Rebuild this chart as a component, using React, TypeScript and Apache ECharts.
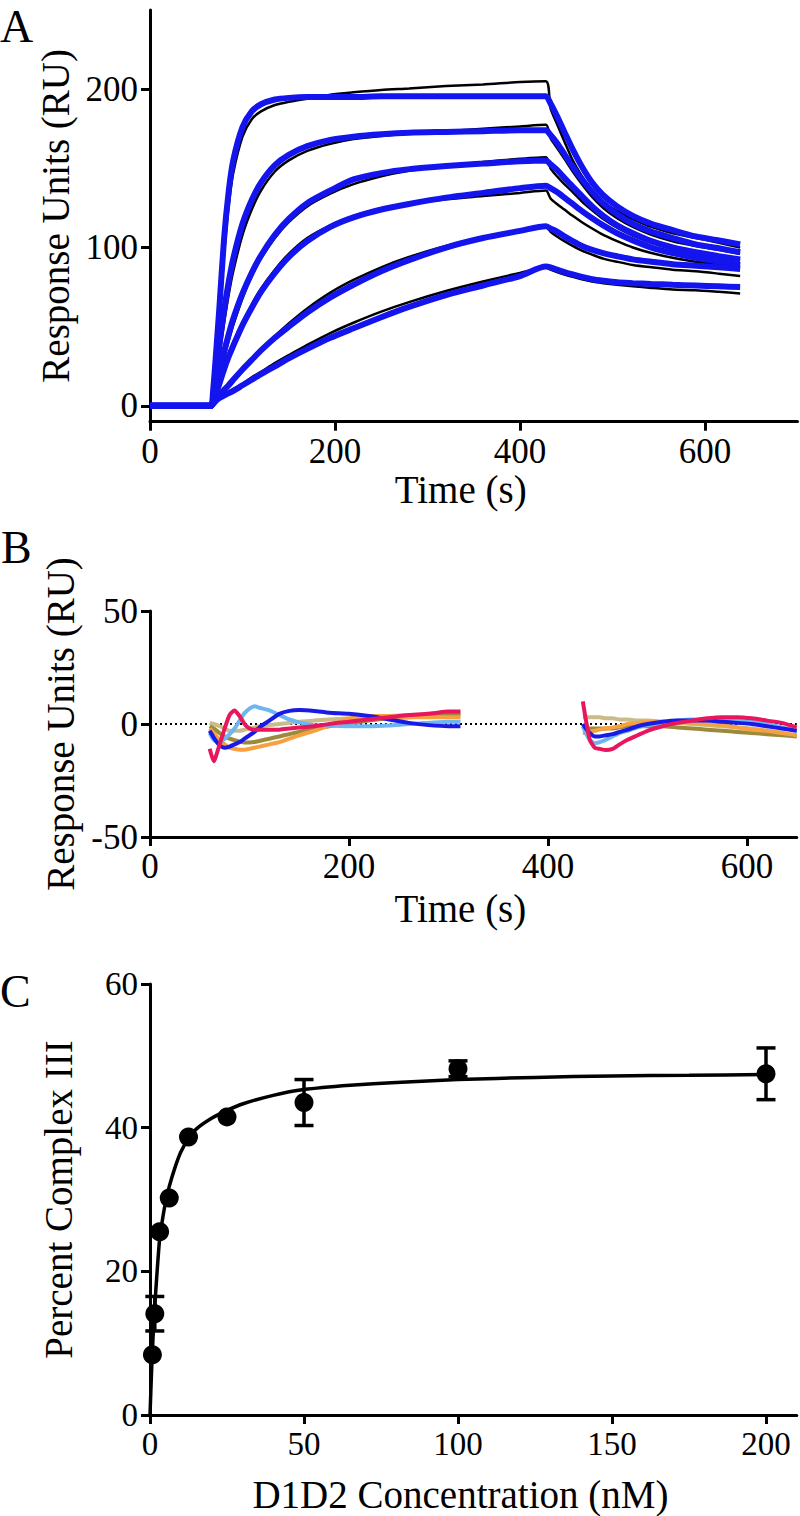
import React, { useEffect, useRef } from "react";
import * as echarts from "echarts";

const FONT = "Liberation Serif, DejaVu Serif, serif";

// ---------- Panel A : sensorgrams (black = data, blue = fit) ----------
const timeA = [0, 66, 68, 71, 75, 80, 85, 90, 100, 110, 120, 135, 150, 170, 195, 220, 250, 280, 320, 360, 400, 428, 433, 440, 448, 457, 467, 478, 490, 505, 522, 542, 565, 590, 615, 638];

const obsA1 = [0, 0, 5, 25, 55, 95, 126, 147, 170, 181, 186, 190, 192, 194, 196.5, 198, 199.5, 200.5, 202, 203, 204.5, 205, 188, 178, 167, 155, 145, 136, 129, 123, 118, 113, 109, 106, 103, 100];
const obsA2 = [0, 0, 3, 14, 32, 52, 70, 85, 108, 124, 136, 148, 155, 161, 165.5, 168.5, 170.5, 172, 173.5, 175, 176.5, 177.5, 169, 163, 156, 148, 140, 132, 125, 118.5, 113, 108, 104, 101, 98.5, 96];
const obsA3 = [0, 0, 2, 9, 19, 30, 41, 51, 68, 82, 93, 106, 116, 126, 134, 140, 145, 148.5, 151.5, 154, 156, 157, 150, 145, 140, 135, 129, 123.5, 118, 112.5, 107.5, 103, 99, 96, 94, 92];
const obsA4 = [0, 0, 1, 5, 12, 21, 30, 38, 52, 64, 74, 86, 96, 106, 114, 120, 124.5, 127.5, 130.5, 132.5, 134.5, 136, 131, 127.5, 124, 120, 116, 112, 108, 104, 100, 96.5, 93.5, 91, 89.5, 88];
const obsA5 = [0, 0, 1, 3, 6, 9, 12, 15.5, 22, 28.5, 35, 44, 52, 61.5, 71.5, 79.5, 87.5, 94, 101, 106, 110, 113, 110, 107, 104, 101, 98, 95.5, 93, 91, 89, 87.5, 86, 85, 83.5, 82];
const obsA6 = [0, 0, 1, 2.5, 4.5, 6.5, 8.5, 10.5, 14, 18, 21.5, 27, 32, 38.5, 46, 52.5, 59.5, 65.5, 72.5, 78.5, 84, 87.5, 86, 84.5, 83, 81.5, 80, 78.5, 77.5, 76.5, 75.5, 74.5, 73.5, 73, 72, 71];

const fitA1 = [0, 0, 8, 30, 62, 105, 135, 155, 176, 186, 190.5, 193.5, 194.5, 195, 195, 195, 195.5, 195.5, 195.5, 195.5, 195.5, 195.5, 191, 183, 173, 162, 151, 141, 133, 126, 120, 115, 111, 107, 104.5, 102];
const fitA2 = [0, 0, 5, 18, 38, 60, 78, 93, 115, 130, 141, 152, 158.5, 164, 168, 170, 171.5, 172.5, 173, 173.5, 174, 174, 171, 166, 159, 151, 143, 135, 128, 121, 115, 110, 106, 102, 99.5, 97];
const fitA3 = [0, 0, 3, 11, 22, 34, 45, 55, 71, 84, 95, 108, 118, 128, 136, 143, 147, 149.5, 151.5, 153, 154.5, 155, 152.5, 149, 144, 138.5, 132.5, 126, 120, 114, 109, 104, 100, 97, 94.5, 92.5];
const fitA4 = [0, 0, 2, 7, 14, 23, 31, 38, 51, 62, 72, 84, 94, 104, 113, 119, 124, 127.5, 131.5, 134.5, 137.5, 139, 137.5, 135, 131.5, 127.5, 123, 118.5, 114, 109, 104.5, 100, 96.5, 93.5, 91, 89];
const fitA5 = [0, 0, 1.5, 4, 7, 10, 13, 16.5, 23, 29, 35, 43, 50, 59, 68.5, 76.5, 85, 92, 100, 106, 110.5, 113.5, 112, 110, 107, 104, 101, 98.5, 96.5, 94.5, 92.5, 91, 89.5, 88.5, 87.5, 86.5];
const fitA6 = [0, 0, 1, 3, 5, 6.5, 8, 9.5, 13, 16.5, 20, 25, 30, 36, 43, 49, 56, 62.5, 70, 76, 82, 88, 87.5, 86, 84.5, 83, 81.5, 80, 79, 78, 77.5, 77, 76.5, 76, 75.5, 75];

const obsA = [obsA1, obsA2, obsA3, obsA4, obsA5, obsA6];
const fitA = [fitA1, fitA2, fitA3, fitA4, fitA5, fitA6];
const ticksAX = [0, 200, 400, 600];
const ticksAY = [0, 100, 200];

// ---------- Panel B : residuals ----------
const timeB = [60, 64, 70, 75, 80, 85, 90, 95, 100, 105, 110, 120, 130, 140, 150, 165, 180, 200, 220, 240, 260, 280, 300, 312, 375, 435, 438, 442, 447, 452, 458, 465, 472, 480, 490, 500, 515, 530, 545, 560, 575, 590, 605, 620, 635, 650];

const resTan = [0.5, 0, -1, -2, -3, -3, -3, -2.5, -2, -1.5, -1, -0.5, 0, 0.5, 1, 1.5, 2, 2.5, 3, 3.5, 4, 4.5, 5, 5, null, 3, 3, 3, 3, 3, 2.5, 2.5, 2, 2, 1.5, 1.5, 1, 0.5, 0, -0.5, -1, -1.5, -2, -3, -4, -5];
const resOlive = [-1, -2, -4, -5.5, -6.5, -7.2, -7.8, -8.2, -8.2, -8, -7.5, -6.5, -5.5, -4.5, -3.5, -2, -1, 0.3, 1.5, 2.5, 3, 3.5, 4, 4, null, -1, -1.5, -2, -2, -2, -2, -2, -1.5, -1, -1, -1, -1, -1.5, -2, -2.5, -3, -3.5, -4, -4.5, -5, -5.5];
const resOrange = [-2, -4, -7, -9, -10.5, -11, -11.4, -11.4, -11, -10.5, -10, -9, -8, -6.5, -5, -3, -0.7, 2.5, 3.5, 3.5, 3, 3, 3, 3, null, -4, -4, -3.5, -3, -2.5, -2, -1.5, -1, 0, 0.5, 1, 1, 1, 0.5, 0, -0.5, -1.5, -2.5, -3, -4, -5];
const resLightBlue = [-4, -7, -8.3, -6.5, -4.5, -2, 1.5, 4.8, 6.8, 7.8, 7.2, 6, 4, 2, 0.7, -0.5, -0.7, -1, -1, -0.7, 0, 0.5, 1, 1, null, -1, -4, -7, -8.5, -8, -7, -5.5, -4, -3, -1.5, -0.5, 0.5, 1.5, 2, 2, 2, 1.5, 1, 0, -1.5, -3];
const resBlue = [-3, -6, -9.5, -10.5, -10, -9, -8, -6.5, -5, -3.5, -1.5, 1.5, 4.5, 5.8, 6.2, 5.8, 5, 4.5, 3.5, 2, 0.5, -0.5, -1, -1, null, 0, -2, -4, -5.5, -5.5, -5, -4.5, -3.5, -2.5, -1, 0, 1, 1.5, 1.5, 1.5, 1, 0.5, 0, -1, -2, -3];
const resPink = [-11, -16.5, -9, -2, 4, 6, 3.5, 0, -2, -2.5, -2.5, -2.5, -2.5, -2, -1.5, -1, 0, 1, 2, 3, 4, 4.5, 5.5, 5.5, null, 10, 2, -7, -10.5, -11, -11.5, -11, -9, -7, -5, -3, -1, 0.5, 1.5, 2.5, 3, 3, 2.5, 1.5, 0.5, -1.5];

const resSeries = [resTan, resOlive, resOrange, resLightBlue, resBlue, resPink];
const resColors = ["#c9bb8a", "#9b8a3a", "#f6a040", "#6db6f2", "#1a1ae6", "#e8175d"];
const ticksBX = [0, 200, 400, 600];
const ticksBY = [-50, 0, 50];

// ---------- Panel C : binding ----------
const concC = [0.78, 1.56, 3.125, 6.25, 12.5, 25, 50, 100, 200];
const meanC = [8.4, 14.1, 25.5, 30.2, 38.7, 41.5, 43.5, 48.2, 47.5];
const semC = [0, 2.4, 0, 0, 0, 0, 3.2, 1.1, 3.6];
const fitCX = [0, 0.25, 0.5, 0.78, 1.2, 1.56, 2.2, 3.125, 4.2, 5, 6.25, 8, 10, 12.5, 15, 20, 25, 30, 40, 50, 65, 80, 100, 125, 150, 175, 200];
const fitCY = [0, 3, 6, 9, 12.5, 15.2, 19.3, 24.5, 27.6, 29.5, 31.8, 34.3, 36.6, 38.5, 39.8, 41.3, 42.4, 43.3, 44.5, 45.3, 45.9, 46.3, 46.7, 47.0, 47.2, 47.3, 47.4];
const ticksCX = [0, 50, 100, 150, 200];
const ticksCY = [0, 20, 40, 60];

function makeAxis(opts: any) {
  const { gridIndex, min, max, ticks, name, nameGap, fontSize, isY, namePad } = opts;
  return {
    type: "value",
    gridIndex,
    min,
    max,
    name,
    nameLocation: "middle",
    nameGap,
    nameRotate: isY ? 90 : 0,
    nameTextStyle: {
      color: "#000",
      fontFamily: FONT,
      fontSize: 39,
      padding: namePad || 0,
    },
    axisLine: { show: true, onZero: false, lineStyle: { color: "#000", width: 3 } },
    axisTick: { show: true, inside: false, length: 9, lineStyle: { color: "#000", width: 3 }, customValues: ticks },
    axisLabel: { show: true, color: "#000", fontFamily: FONT, fontSize, margin: 12, customValues: ticks },
    splitLine: { show: false },
  };
}

export default function App() {
  const ref = useRef<HTMLDivElement>(null);
  useEffect(() => {
    const chart = echarts.init(ref.current as HTMLDivElement, null, { renderer: "svg" });

    const series: any[] = [];
    obsA.forEach((arr, i) => {
      series.push({
        type: "line", xAxisIndex: 0, yAxisIndex: 0, showSymbol: false, silent: true, z: 2,
        smooth: 0.25,
        data: timeA.map((t, j) => [t, arr[j]]),
        lineStyle: { color: "#000", width: 2.5 },
        name: "data" + (i + 1),
      });
    });
    fitA.forEach((arr, i) => {
      series.push({
        type: "line", xAxisIndex: 0, yAxisIndex: 0, showSymbol: false, silent: true, z: 3,
        smooth: 0.25,
        data: timeA.map((t, j) => [t, arr[j]]),
        lineStyle: { color: "#1414ee", width: 6 },
        name: "fit" + (i + 1),
      });
    });
    series.push({
      type: "line", xAxisIndex: 1, yAxisIndex: 1, showSymbol: false, silent: true, z: 1,
      data: [[0, 0], [650, 0]],
      lineStyle: { color: "#000", width: 2, type: [2, 3] },
    });
    resSeries.forEach((arr, i) => {
      series.push({
        type: "line", xAxisIndex: 1, yAxisIndex: 1, showSymbol: false, silent: true, z: 2 + i,
        connectNulls: false,
        smooth: 0.2,
        data: timeB.map((t, j) => [t, arr[j] === null ? "-" : arr[j]]),
        lineStyle: { color: resColors[i], width: 4 },
      });
    });
    series.push({
      type: "line", xAxisIndex: 2, yAxisIndex: 2, showSymbol: false, silent: true, z: 2,
      smooth: 0.2,
      data: fitCX.map((x, j) => [x, fitCY[j]]),
      lineStyle: { color: "#000", width: 3.5 },
    });
    series.push({
      type: "custom", xAxisIndex: 2, yAxisIndex: 2, silent: true, z: 3,
      data: concC.map((c, i) => [c, meanC[i] - semC[i], meanC[i] + semC[i]]).filter((d, i) => semC[i] > 0),
      encode: { x: 0, y: [1, 2] },
      renderItem: (params: any, api: any) => {
        const x = api.value(0);
        const lo = api.coord([x, api.value(1)]);
        const hi = api.coord([x, api.value(2)]);
        const hw = 9.5;
        const st = { stroke: "#000", lineWidth: 3.5 };
        return {
          type: "group",
          children: [
            { type: "line", shape: { x1: lo[0], y1: lo[1], x2: hi[0], y2: hi[1] }, style: st },
            { type: "line", shape: { x1: lo[0] - hw, y1: lo[1], x2: lo[0] + hw, y2: lo[1] }, style: st },
            { type: "line", shape: { x1: hi[0] - hw, y1: hi[1], x2: hi[0] + hw, y2: hi[1] }, style: st },
          ],
        };
      },
    });
    series.push({
      type: "scatter", xAxisIndex: 2, yAxisIndex: 2, silent: true, z: 4,
      symbol: "circle", symbolSize: 19,
      data: concC.map((c, i) => [c, meanC[i]]),
      itemStyle: { color: "#000", opacity: 1 },
    });

    const letterStyle = { fontSize: 46, fontFamily: FONT, fill: "#000", align: "left", verticalAlign: "middle" };
    const option: any = {
      animation: false,
      backgroundColor: "#fff",
      textStyle: { fontFamily: FONT },
      grid: [
        { left: 150, top: 10, width: 647.5, height: 411.7, outerBoundsMode: "none" },
        { left: 150, top: 611, width: 646.75, height: 226, outerBoundsMode: "none" },
        { left: 150, top: 984, width: 646.8, height: 431, outerBoundsMode: "none" },
      ],
      xAxis: [
        makeAxis({ gridIndex: 0, min: 0, max: 700, ticks: ticksAX, name: "Time (s)", nameGap: 47, fontSize: 35, namePad: [0, 26, 0, 0] }),
        makeAxis({ gridIndex: 1, min: 0, max: 650, ticks: ticksBX, name: "Time (s)", nameGap: 52, fontSize: 35, namePad: [0, 26, 0, 0] }),
        makeAxis({ gridIndex: 2, min: 0, max: 210, ticks: ticksCX, name: "D1D2 Concentration (nM)", nameGap: 60, fontSize: 33, namePad: [0, 26, 0, 0] }),
      ],
      yAxis: [
        makeAxis({ gridIndex: 0, min: -10, max: 250, ticks: ticksAY, name: "Response Units (RU)", nameGap: 70, fontSize: 35, isY: true }),
        makeAxis({ gridIndex: 1, min: -50, max: 50, ticks: ticksBY, name: "Response Units (RU)", nameGap: 70, fontSize: 35, isY: true }),
        makeAxis({ gridIndex: 2, min: 0, max: 60, ticks: ticksCY, name: "Percent Complex III", nameGap: 72, fontSize: 33, isY: true }),
      ],
      graphic: [
        { type: "text", x: 0, y: 26, style: { text: "A", ...letterStyle } },
        { type: "text", x: 1, y: 547, style: { text: "B", ...letterStyle } },
        { type: "text", x: 0, y: 991, style: { text: "C", ...letterStyle } },
      ],
      series,
    };
    chart.setOption(option);
    return () => chart.dispose();
  }, []);
  return (
    <div
      ref={ref}
      style={{ position: "absolute", left: 0, top: 0, width: 800, height: 1516, background: "#fff" }}
    />
  );
}
